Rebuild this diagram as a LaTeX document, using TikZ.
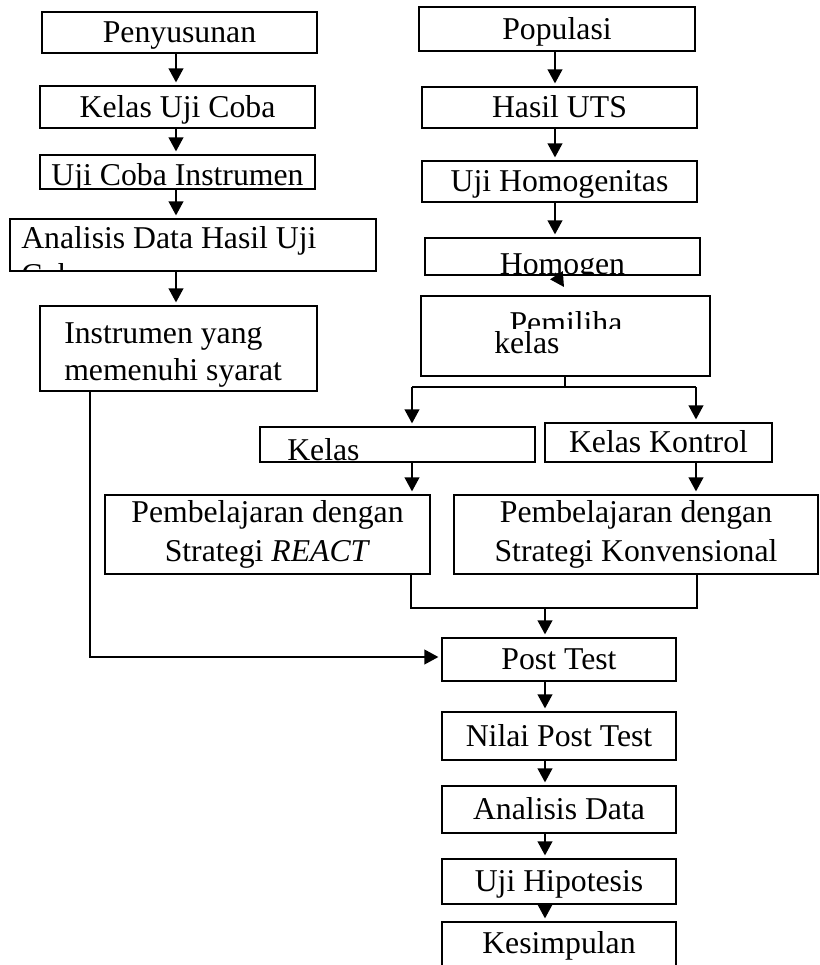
\documentclass[tikz,border=0pt]{standalone}
\usepackage{fontspec}
\setmainfont{Liberation Serif}
\usetikzlibrary{arrows.meta}

\begin{document}
\begin{tikzpicture}[x=0.75pt,y=-0.75pt]
\tikzset{kotak/.style={draw, line width=1.4pt, inner sep=0pt, font=\fontsize{23.8}{29.25}\selectfont, text height=15.7pt, text depth=0pt}}
\tikzset{tulisan/.style={inner sep=0pt, font=\fontsize{23.8}{29.25}\selectfont}}
\tikzset{garis/.style={line width=1.4pt}}
\tikzset{panah/.style={line width=1.4pt, -{Triangle[length=10.5pt,width=11pt]}, shorten >=2pt}}
\useasboundingbox (0,0) rectangle (820,965);
\clip (0,0) rectangle (820,965);
\node[kotak, minimum width=206.25pt, minimum height=30.75pt] (pen) at (179.5,32.5) {Penyusunan};
\node[kotak, minimum width=206.25pt, minimum height=31.5pt] (kuc) at (177.5,107) {Kelas Uji Coba};
\node[kotak, minimum width=206.25pt, minimum height=25.5pt] (uci) at (177.5,172) {};
\node[kotak, minimum width=274.5pt, minimum height=39pt] (adh) at (193,245) {};
\node[kotak, minimum width=207.75pt, minimum height=63.75pt] (ins) at (178.5,348.5) {};
\node[tulisan, anchor=base west] (insa) at (64,343) {Instrumen yang};
\node[tulisan, anchor=base west] (insb) at (64,380) {memenuhi syarat};
\node[kotak, minimum width=207pt, minimum height=33pt] (pop) at (557,29) {Populasi};
\node[kotak, minimum width=206.25pt, minimum height=30.75pt] (uts) at (559.5,107.5) {Hasil UTS};
\node[kotak, minimum width=206.25pt, minimum height=30.75pt] (uho) at (559.5,181.5) {Uji Homogenitas};
\node[kotak, minimum width=206.25pt, minimum height=27.75pt] (hom) at (562.5,256.5) {};
\node[kotak, minimum width=216.75pt, minimum height=60pt] (pem) at (565.5,336) {};
\node[kotak, minimum width=206.25pt, minimum height=26.25pt] (kel) at (397.5,444.5) {};
\node[kotak, minimum width=170.25pt, minimum height=29.25pt] (kko) at (658.5,442.5) {Kelas Kontrol};
\node[kotak, minimum width=243.75pt, minimum height=59.25pt, align=center, text height={}, text depth={}] (pre) at (267.5,534.5) {Pembelajaran dengan\\Strategi \textit{REACT}};
\node[kotak, minimum width=273pt, minimum height=59.25pt, align=center, text height={}, text depth={}] (pko) at (636,534.5) {Pembelajaran dengan\\Strategi Konvensional};
\node[kotak, minimum width=175.5pt, minimum height=32.25pt] (pt) at (559,659.5) {Post Test};
\node[kotak, minimum width=175.5pt, minimum height=36pt] (npt) at (559,736) {Nilai Post Test};
\node[kotak, minimum width=175.5pt, minimum height=35.25pt] (ad) at (559,809.5) {Analisis Data};
\node[kotak, minimum width=175.5pt, minimum height=33.75pt] (uh) at (559,881.5) {Uji Hipotesis};
\node[kotak, minimum width=175.5pt, minimum height=51pt] (kes) at (559,956) {};
\node[tulisan, anchor=base] (kest) at (559,953) {Kesimpulan};

\begin{scope}
\clip (uci.south west) rectangle (uci.north east);
\node[tulisan, anchor=base] (ucit) at (177.5,185) {Uji Coba Instrumen};
\end{scope}
\begin{scope}
\clip (adh.south west) rectangle (adh.north east);
\node[tulisan, anchor=base west] (adht) at (21,248) {Analisis Data Hasil Uji};
\node[tulisan, anchor=base west] (adhs) at (21,285) {Coba};
\end{scope}
\begin{scope}
\clip (hom.south west) rectangle (hom.north east);
\node[tulisan, anchor=base] (homt) at (562.5,274) {Homogen};
\end{scope}
\begin{scope}
\clip (421,296) rectangle (710,328);
\node[tulisan, anchor=base] (pemt) at (566,333) {Pemiliha};
\end{scope}
\node[tulisan, anchor=base west] (pemk) at (494,353) {kelas};
\begin{scope}
\clip (kel.south west) rectangle (kel.north east);
\node[tulisan, anchor=base west] (kelt) at (287,460) {Kelas};
\end{scope}

\coordinate (kol) at (176,0);
\coordinate (kan) at (555,0);
\coordinate (bwh) at (545,0);
\draw[panah] (kol |- pen.south) -- (kol |- kuc.north);
\draw[panah] (kol |- kuc.south) -- (kol |- uci.north);
\draw[panah] (kol |- uci.south) -- (kol |- adh.north);
\draw[panah] (kol |- adh.south) -- (kol |- ins.north);
\draw[panah] (kan |- pop.south) -- (kan |- uts.north);
\draw[panah] (kan |- uts.south) -- (kan |- uho.north);
\draw[panah] (kan |- uho.south) -- (kan |- hom.north);
\coordinate (hx) at (555,273);
\coordinate (hy) at (564,287);
\draw[panah, shorten >=0pt] (hx) -- (hy);

\coordinate (cab) at (565,387);
\coordinate (cki) at (412,387);
\coordinate (cka) at (696,387);
\draw[garis] (cab |- pem.south) -- (cab);
\draw[garis] (cki) -- (cka);
\draw[panah] (cki) -- (cki |- kel.north);
\draw[panah] (cka) -- (cka |- kko.north);
\draw[panah] (cki |- kel.south) -- (cki |- pre.north);
\draw[panah] (cka |- kko.south) -- (cka |- pko.north);

\coordinate (gki) at (411,608);
\coordinate (gka) at (697,608);
\draw[garis] (gki |- pre.south) -- (gki) -- (gka) -- (gka |- pko.south);
\draw[panah] (bwh |- gki) -- (bwh |- pt.north);
\draw[panah] (bwh |- pt.south) -- (bwh |- npt.north);
\draw[panah] (bwh |- npt.south) -- (bwh |- ad.north);
\draw[panah] (bwh |- ad.south) -- (bwh |- uh.north);
\draw[panah] (bwh |- uh.south) -- (bwh |- kes.north);

\coordinate (blk) at (90,657);
\draw[panah] (blk |- ins.south) -- (blk) -- (blk -| pt.west);
\end{tikzpicture}
\end{document}
